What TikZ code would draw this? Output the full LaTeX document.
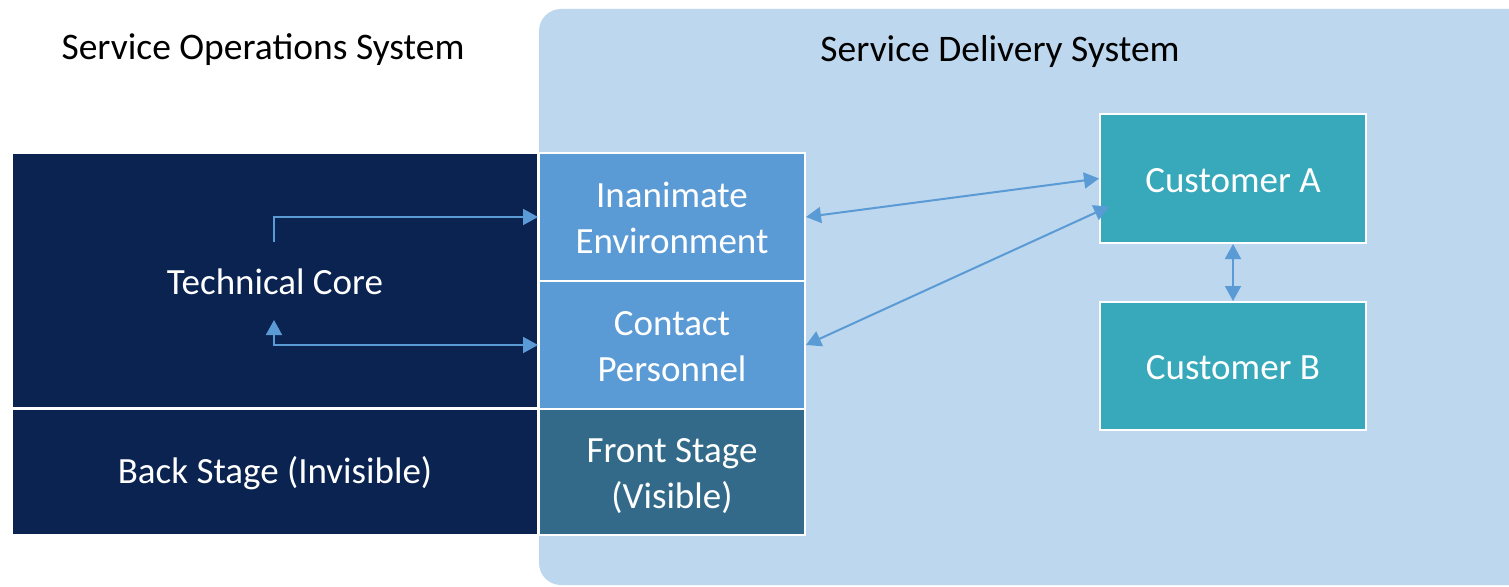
\documentclass[tikz,border=0pt]{standalone}
\usepackage{fontspec}
\setmainfont{Carlito}
\usetikzlibrary{arrows.meta}
\definecolor{navy}{HTML}{0A2351}
\definecolor{midblue}{HTML}{5B9BD5}
\definecolor{stageblue}{HTML}{336A89}
\definecolor{teal}{HTML}{38A9BA}
\definecolor{paleblue}{HTML}{BDD7EE}
\tikzset{
  boxtext/.style={inner sep=0pt, align=center, text=white,
    font=\fontsize{37}{46}\selectfont},
  box/.style={boxtext, draw=white, line width=2pt},
  title/.style={inner sep=0pt, text=black, font=\fontsize{37.5}{45}\selectfont},
  link/.style={draw=midblue, line width=2pt,
    arrows={Triangle[length=15pt,width=16pt]-Triangle[length=15pt,width=16pt]}},
  onelink/.style={draw=midblue, line width=2pt,
    arrows={-Triangle[length=15pt,width=16pt]}}
}
\begin{document}
\begin{tikzpicture}[x=1pt,y=-1pt]
  \useasboundingbox (0,0) rectangle (1509,586);
  \fill[white] (0,0) rectangle (1509,586);
  % delivery system panel, running off the right edge
  \begin{scope}
    \clip (0,0) rectangle (1509,586);
    \fill[paleblue, rounded corners=22pt] (539,9) rectangle (1560,585);
  \end{scope}

  \node[title] (opsTitle) at (263,50) {Service Operations System};
  \node[title] (delTitle) at (1000,52) {Service Delivery System};

  % operations side
  \node[box, fill=navy, minimum width=526pt, minimum height=255pt] (tech) at (275,280.5) {};
  \node[boxtext] (techLabel) at (275,282) {Technical Core};
  \node[box, fill=navy, minimum width=526pt, minimum height=126pt,
    label={[boxtext, yshift=-1pt]center:Back Stage (Invisible)}] (back) at (275,472) {};

  % front stage column
  \node[box, fill=midblue, minimum width=266pt, minimum height=128pt,
    label={[boxtext, yshift=-1pt]center:{Inanimate\\Environment}}] (inan) at (672,217) {};
  \node[box, fill=midblue, minimum width=266pt, minimum height=128pt,
    label={[boxtext, yshift=-2pt]center:{Contact\\Personnel}}] (contact) at (672,345) {};
  \node[box, fill=stageblue, minimum width=266pt, minimum height=126pt,
    label={[boxtext, yshift=-4pt]center:{Front Stage\\(Visible)}}] (front) at (672,472) {};

  % customers
  \node[box, fill=teal, minimum width=266pt, minimum height=129pt,
    label={[boxtext, yshift=-2pt]center:Customer A}] (custA) at (1233,178.5) {};
  \node[box, fill=teal, minimum width=266pt, minimum height=128pt,
    label={[boxtext, yshift=-2pt]center:Customer B}] (custB) at (1233,366) {};

  % flows out of the technical core
  \coordinate (coreOut) at (274,242);
  \coordinate (coreIn) at (274,320);
  \draw[onelink] (coreOut) |- (inan.west);
  \draw[link] (coreIn) |- (contact.west);

  % customer interactions
  \draw[link] (inan.east) -- (custA.west);
  \draw[link] (contact.east) -- ([xshift=10pt,yshift=-28pt]custA.west);
  \draw[link] (custA.south) -- (custB.north);
\end{tikzpicture}
\end{document}
